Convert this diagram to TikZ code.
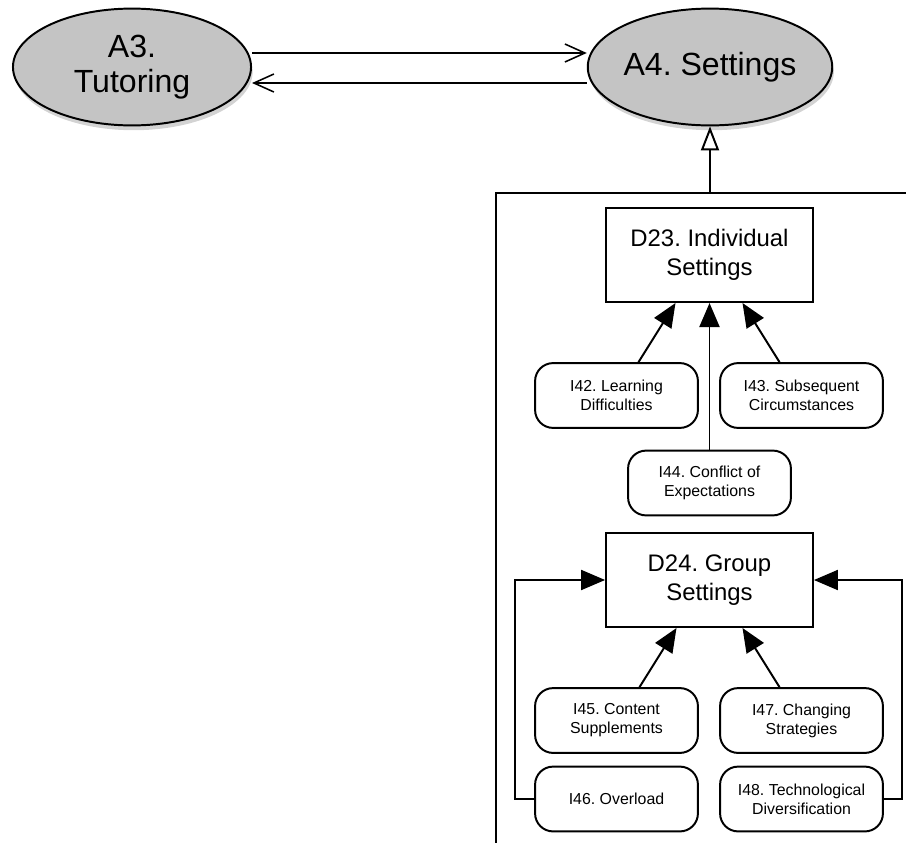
\documentclass[tikz,border=0pt]{standalone}
\usepackage{fontspec}
\setmainfont{Liberation Sans}
\usetikzlibrary{calc}
\usetikzlibrary{arrows.meta, shapes, shadows}
\definecolor{topicgray}{RGB}{196,196,196}
\frenchspacing

\begin{document}
\begin{tikzpicture}[x=0.025cm, y=-0.025cm,
topic/.style={
  ellipse, draw, line width=1.4pt,
  fill=topicgray,
  drop shadow={shadow xshift=0.04cm, shadow yshift=-0.12cm, opacity=0.35},
  minimum width=5.95cm, minimum height=2.92cm,
  inner sep=0pt, align=center,
  font=\fontsize{22.8}{24.5}\selectfont
},
decision/.style={
  rectangle, draw, line width=1.4pt, fill=white,
  minimum width=5.17cm, minimum height=2.35cm,
  align=center,
  font=\fontsize{17}{21}\selectfont
},
issue/.style={
  rectangle, draw, line width=1.4pt,
  rounded corners=0.45cm, fill=white,
  minimum width=4.07cm, minimum height=1.62cm,
  align=center, inner sep=0pt,
  font=\fontsize{11.3}{13.5}\selectfont
},
link/.style={line width=1.4pt, -{Triangle[length=0.6cm, width=0.5cm]}},
flow/.style={line width=1.1pt, -{Straight Barb[length=0.5cm, width=0.45cm]}},
refine/.style={line width=1.4pt, -{Triangle[open, length=0.6cm, width=0.45cm]}}
]
\useasboundingbox (0,0) rectangle (906,842);

\node (a3) [topic] at (132,67) {A3.\\Tutoring};
\node (a4) [topic] at (710,67) {A4. Settings};

\draw[flow] ([yshift=0.35cm]a3.east) -- ([yshift=0.35cm]a4.west);
\draw[flow] ([yshift=-0.4cm]a4.west) -- ([yshift=-0.4cm]a3.east);

\draw[line width=1.8pt] (496,193) rectangle (960,900);
\coordinate (paneltop) at (710,193);
\draw[refine] (paneltop) -- (a4.south);

\node (d23) [decision] at (709.5,255) {D23. Individual\\Settings};
\node (i42) [issue] at (616.5,395.5) {I42. Learning\\Difficulties};
\node (i43) [issue] at (801.5,395.5) {I43. Subsequent\\Circumstances};
\node (i44) [issue] at (709.5,483) {I44. Conflict of\\Expectations};

\draw[link] ($(i42.north)+(22,0)$) -- ($(d23.south)+(-34,0)$);
\draw[link] ($(i43.north)+(-22,0)$) -- ($(d23.south)+(33,0)$);
\draw[link] (i44.north) -- (d23.south);

\node (d24) [decision] at (709.5,580) {D24. Group\\Settings};
\node (i45) [issue] at (616.5,720.5) {I45. Content\\Supplements};
\node (i47) [issue] at (801.5,720.5) {I47. Changing\\Strategies};
\node (i46) [issue] at (616.5,799) {I46. Overload};
\node (i48) [issue] at (801.5,799) {I48. Technological\\Diversification};

\draw[link] ($(i45.north)+(23,0)$) -- ($(d24.south)+(-33,0)$);
\draw[link] ($(i47.north)+(-22,0)$) -- ($(d24.south)+(33,0)$);
\draw[link] (i46.west) -- ++(-19,0) |- (d24.west);
\draw[link] (i48.east) -- ++(18,0) |- (d24.east);
\end{tikzpicture}
\end{document}
